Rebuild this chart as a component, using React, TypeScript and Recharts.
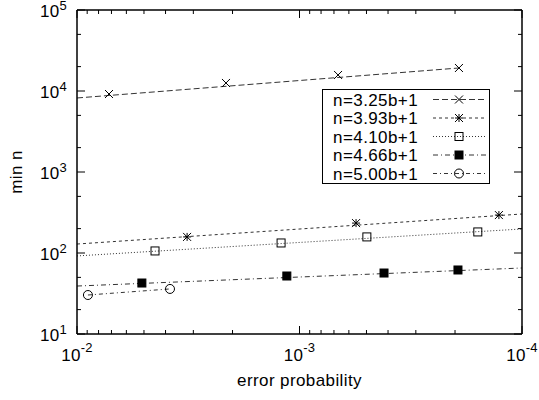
import React from 'react'
import { ComposedChart, Line, Scatter, XAxis, YAxis, Legend } from 'recharts'

const FONT = '"Liberation Sans", Arial, Helvetica, sans-serif'

// tick positions
const majorX = [1e-2, 1e-3, 1e-4]
const minorXMult = [2, 3, 4, 5, 6, 7, 8, 9]
const majorY = [1e1, 1e2, 1e3, 1e4, 1e5]
const minorYMult = [2, 5]

const xTicks = [
	...majorX,
	...[1e-4, 1e-3].flatMap((d) => minorXMult.map((m) => +(m * d).toPrecision(3))),
]
const yTicks = [
	...majorY,
	...[1e1, 1e2, 1e3, 1e4].flatMap((d) => minorYMult.map((m) => +(m * d).toPrecision(3))),
]

// series (x = error probability, y = min n)
const names = ['n=3.25b+1', 'n=3.93b+1', 'n=4.10b+1', 'n=4.66b+1', 'n=5.00b+1']

const pts1 = [
	{ x: 0.00718, y: 9180 },
	{ x: 0.00214, y: 12560 },
	{ x: 0.000671, y: 15770 },
	{ x: 0.000192, y: 19230 },
]
const fit1 = [
	{ x: 0.01, y: 8200 },
	{ x: 0.000192, y: 19230 },
]

const pts2 = [
	{ x: 0.0032, y: 158 },
	{ x: 0.000557, y: 234 },
	{ x: 0.000127, y: 294 },
]
const fit2 = [
	{ x: 0.01, y: 129 },
	{ x: 0.0001, y: 303 },
]

const pts3 = [
	{ x: 0.00446, y: 106 },
	{ x: 0.00121, y: 133 },
	{ x: 0.000498, y: 158 },
	{ x: 0.000158, y: 182 },
]
const fit3 = [
	{ x: 0.01, y: 92 },
	{ x: 0.0001, y: 198 },
]

const pts4 = [
	{ x: 0.00511, y: 42.6 },
	{ x: 0.00114, y: 52 },
	{ x: 0.000417, y: 56.6 },
	{ x: 0.000194, y: 61.7 },
]
const fit4 = [
	{ x: 0.01, y: 39.1 },
	{ x: 0.0001, y: 65.3 },
]

const pts5 = [
	{ x: 0.00893, y: 30.3 },
	{ x: 0.00382, y: 36 },
]
const fit5 = [
	{ x: 0.00893, y: 30.3 },
	{ x: 0.00382, y: 36 },
]

const series = [
	{ name: names[0], pts: pts1, fit: fit1, dash: '6 3', marker: 'cross' },
	{ name: names[1], pts: pts2, fit: fit2, dash: '3 3', marker: 'star' },
	{ name: names[2], pts: pts3, fit: fit3, dash: '1 2', marker: 'square' },
	{ name: names[3], pts: pts4, fit: fit4, dash: '5 3 1 3', marker: 'filled' },
	{ name: names[4], pts: pts5, fit: fit5, dash: '4 3 1 3', marker: 'circle' },
]

const isMajor = (v: number) => Math.abs(Math.log10(v) - Math.round(Math.log10(v))) < 1e-6
const expOf = (v: number) => Math.round(Math.log10(v))

function Marker({ kind, cx, cy }: { kind: string; cx: number; cy: number }) {
	const s = 4
	const st = { stroke: '#000', strokeWidth: 1, fill: 'none' }
	if (kind === 'cross')
		return (
			<g {...st}>
				<line x1={cx - s} y1={cy - s} x2={cx + s} y2={cy + s} />
				<line x1={cx - s} y1={cy + s} x2={cx + s} y2={cy - s} />
			</g>
		)
	if (kind === 'star')
		return (
			<g {...st}>
				<line x1={cx - s} y1={cy - s} x2={cx + s} y2={cy + s} />
				<line x1={cx - s} y1={cy + s} x2={cx + s} y2={cy - s} />
				<line x1={cx - s} y1={cy} x2={cx + s} y2={cy} />
				<line x1={cx} y1={cy - s} x2={cx} y2={cy + s} />
			</g>
		)
	if (kind === 'square') return <rect x={cx - s} y={cy - s} width={2 * s} height={2 * s} {...st} />
	if (kind === 'filled')
		return <rect x={cx - s} y={cy - s} width={2 * s} height={2 * s} fill="#000" stroke="#000" />
	return <circle cx={cx} cy={cy} r={4.5} {...st} />
}

function Pow({ x, y, v, anchor, rise }: { x: number; y: number; v: number; anchor: 'start' | 'middle' | 'end'; rise: number }) {
	return (
		<text x={x} y={y} textAnchor={anchor} fontSize={17} fontFamily={FONT} fill="#000" letterSpacing={0.3}>
			10
			<tspan dy={-rise} fontSize={13}>
				{expOf(v)}
			</tspan>
		</text>
	)
}

const BottomTick = (p: any) => {
	const v = p.payload.value
	const maj = isMajor(v)
	return (
		<g>
			<line x1={p.x} x2={p.x} y1={p.y} y2={p.y - (maj ? 8 : 4)} stroke="#000" />
			{maj && <Pow x={p.x} y={p.y + 27} v={v} anchor="middle" rise={9} />}
		</g>
	)
}

const TopTick = (p: any) => {
	const maj = isMajor(p.payload.value)
	return <line x1={p.x} x2={p.x} y1={p.y} y2={p.y + (maj ? 8 : 4)} stroke="#000" />
}

const LeftTick = (p: any) => {
	const v = p.payload.value
	const maj = isMajor(v)
	return (
		<g>
			<line x1={p.x} x2={p.x + (maj ? 8 : 4)} y1={p.y} y2={p.y} stroke="#000" />
			{maj && <Pow x={p.x - 10} y={p.y + 7} v={v} anchor="end" rise={7.5} />}
		</g>
	)
}

const RightTick = (p: any) => {
	const maj = isMajor(p.payload.value)
	return <line x1={p.x} x2={p.x - (maj ? 8 : 4)} y1={p.y} y2={p.y} stroke="#000" />
}

function LegendBox() {
	return (
		<svg width={169} height={96} style={{ display: 'block' }}>
			<rect x={0.5} y={0.5} width={167} height={94} fill="#fff" stroke="#000" />
			{series.map((s, i) => {
				const cy = 10.5 + i * 18.5
				return (
					<g key={s.name}>
						<text x={96} y={cy + 6} textAnchor="end" fontSize={17} fontFamily={FONT} fill="#000" letterSpacing={0.4}>
							{s.name}
						</text>
						<line x1={111} x2={165} y1={cy} y2={cy} stroke="#333" strokeDasharray={s.dash} />
						<Marker kind={s.marker} cx={137} cy={cy} />
					</g>
				)
			})}
		</svg>
	)
}

export default function App() {
	return (
		<div style={{ position: 'absolute', left: 0, top: 0, fontFamily: FONT }}>
			<ComposedChart width={539} height={400} margin={{ top: 0, right: 0, bottom: 0, left: 0 }}>
				<XAxis
					dataKey="x"
					type="number"
					scale="log"
					domain={[1e-4, 1e-2]}
					reversed
					allowDataOverflow
					ticks={xTicks}
					interval={0}
					height={66}
					tickSize={0}
					tickMargin={0}
					tickLine={false}
					tick={BottomTick}
					axisLine={{ stroke: '#000', strokeWidth: 1.5 }}
					label={{
						content: (props: any) => {
							const vb = props.viewBox
							return (
								<text x={vb.x + vb.width / 2} y={vb.y + 52} textAnchor="middle" fontSize={17} fontFamily={FONT} fill="#000" letterSpacing={0.4}>
									error probability
								</text>
							)
						},
					}}
				/>
				<XAxis
					xAxisId="top"
					orientation="top"
					dataKey="x"
					type="number"
					scale="log"
					domain={[1e-4, 1e-2]}
					reversed
					allowDataOverflow
					ticks={xTicks}
					interval={0}
					height={10}
					tickSize={0}
					tickMargin={0}
					tickLine={false}
					tick={TopTick}
					axisLine={{ stroke: '#000', strokeWidth: 1.5 }}
				/>
				<YAxis
					dataKey="y"
					type="number"
					scale="log"
					domain={[10, 1e5]}
					allowDataOverflow
					ticks={yTicks}
					interval={0}
					width={77}
					tickSize={0}
					tickMargin={0}
					tickLine={false}
					tick={LeftTick}
					axisLine={{ stroke: '#000', strokeWidth: 1.5 }}
					label={{
						content: (props: any) => {
							const vb = props.viewBox
							const cx = 22
							const cy = vb.y + vb.height / 2
							return (
								<text x={cx} y={cy} transform={`rotate(-90 ${cx} ${cy})`} textAnchor="middle" fontSize={17} fontFamily={FONT} fill="#000" letterSpacing={0.4}>
									min n
								</text>
							)
						},
					}}
				/>
				<YAxis
					yAxisId="right"
					orientation="right"
					type="number"
					scale="log"
					domain={[10, 1e5]}
					allowDataOverflow
					ticks={yTicks}
					interval={0}
					width={17}
					tickSize={0}
					tickMargin={0}
					tickLine={false}
					tick={RightTick}
					axisLine={{ stroke: '#000', strokeWidth: 1.5 }}
				/>
				{series.map((s) => (
					<Line
						key={'fit' + s.name}
						data={s.fit}
						dataKey="y"
						type="linear"
						stroke="#333"
						strokeWidth={1}
						strokeDasharray={s.dash}
						dot={false}
						activeDot={false}
						legendType="none"
						isAnimationActive={false}
					/>
				))}
				{series.map((s) => (
					<Scatter
						key={'pts' + s.name}
						name={s.name}
						data={s.pts}
						dataKey="y"
						shape={(p: any) => <Marker kind={s.marker} cx={p.cx} cy={p.cy} />}
						isAnimationActive={false}
					/>
				))}
				<Legend
					verticalAlign="middle"
					align="center"
					content={() => <LegendBox />}
					wrapperStyle={{ position: 'absolute', left: 322, top: 89, width: 169, height: 96 }}
				/>
			</ComposedChart>
		</div>
	)
}
